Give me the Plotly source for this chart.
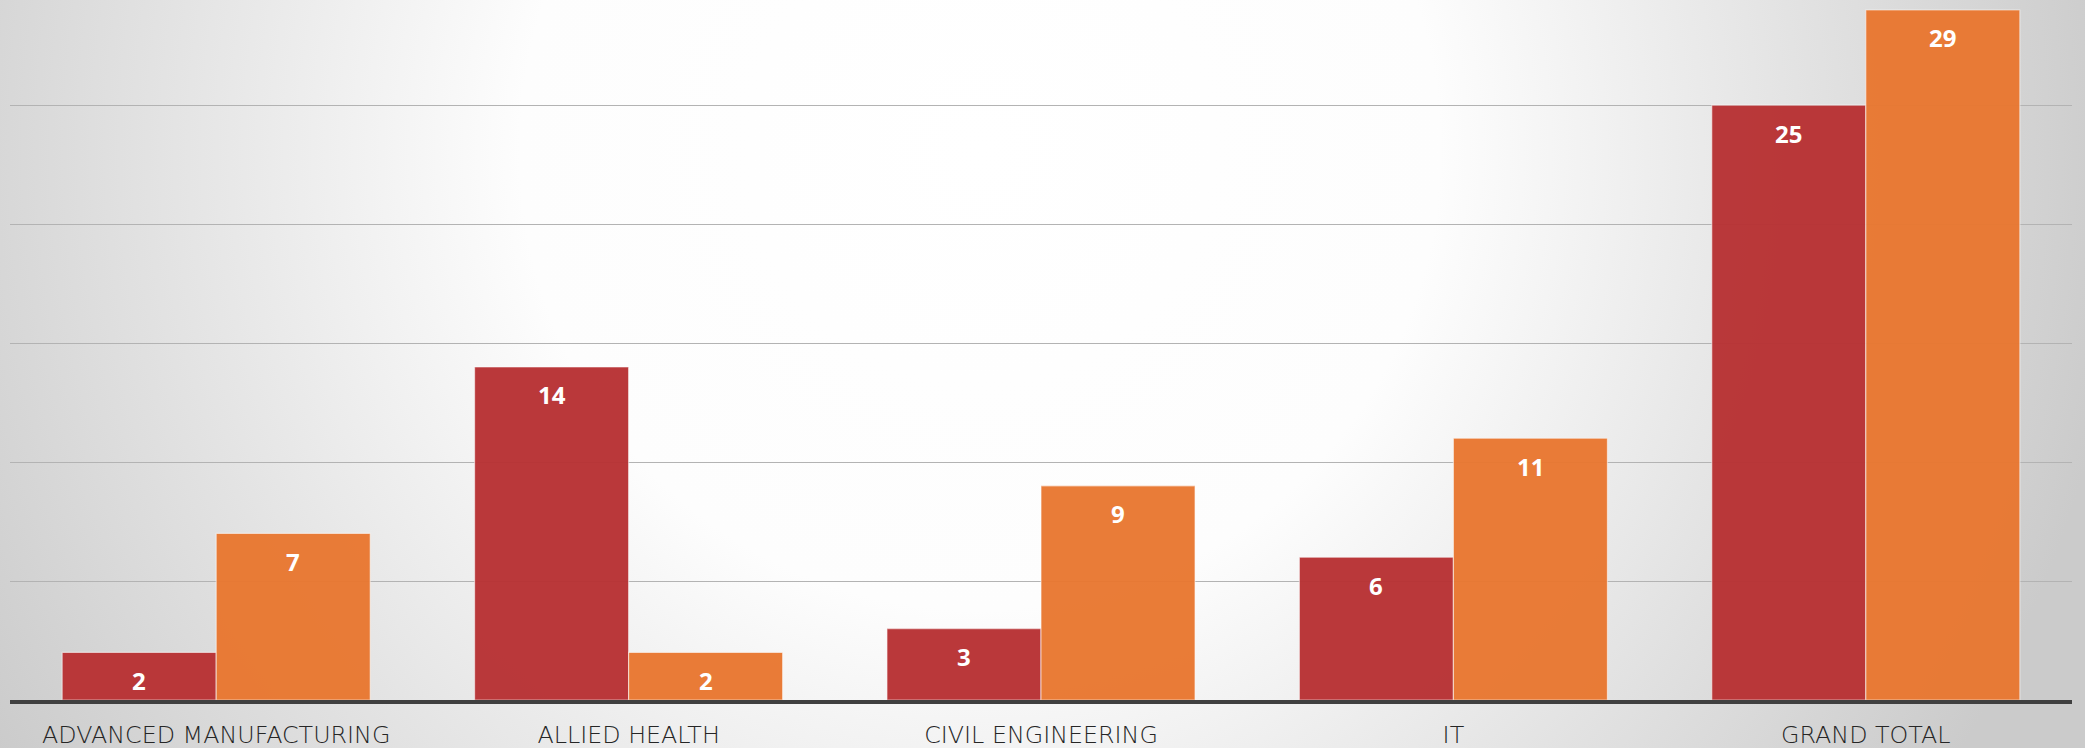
import base64
import plotly.graph_objects as go

# Program enrolment by field, two cohorts
categories = ["ADVANCED MANUFACTURING", "ALLIED HEALTH", "CIVIL ENGINEERING", "IT", "GRAND TOTAL"]
series_a = [2, 14, 3, 6, 25]
series_b = [7, 2, 9, 11, 29]

RED = "#B83133"
ORANGE = "#E97730"

W, H = 2085, 748
ML, MR, MT, MB = 10, 13, 0, 48
BARGAP = 0.253

# soft radial background, white toward the upper middle, grey at the edges
svg = f"""<svg xmlns='http://www.w3.org/2000/svg' width='{W}' height='{H}'>
<defs><radialGradient id='g' gradientUnits='userSpaceOnUse' cx='980' cy='150' r='1150'>
<stop offset='0' stop-color='#ffffff'/>
<stop offset='0.4' stop-color='#fdfdfd'/>
<stop offset='1' stop-color='#cbcbcb'/>
</radialGradient></defs>
<rect x='0' y='0' width='{W}' height='{H}' fill='url(#g)'/></svg>"""
bg_src = "data:image/svg+xml;base64," + base64.b64encode(svg.encode()).decode()

pw, ph = W - ML - MR, H - MT - MB

fig = go.Figure()
for vals, color in ((series_a, RED), (series_b, ORANGE)):
    fig.add_trace(go.Bar(
        x=categories, y=vals,
        marker=dict(color=color, opacity=0.96,
                    line=dict(color="rgba(255,255,255,0.55)", width=1.2)),
        hoverinfo="x+y",
    ))

# value labels just inside the top of each bar
half = (1 - BARGAP) / 4
for i in range(len(categories)):
    for vals, dx in ((series_a, -half), (series_b, half)):
        fig.add_annotation(
            x=i + dx, y=vals[i], yshift=-28, showarrow=False,
            text=str(vals[i]), xanchor="center", yanchor="middle",
            font=dict(family="Open Sans", size=24, color="white", weight="bold"),
        )

fig.add_layout_image(
    source=bg_src, xref="paper", yref="paper",
    x=-ML / pw, y=1 + MT / ph, sizex=W / pw, sizey=H / ph,
    xanchor="left", yanchor="top", sizing="stretch", layer="below",
)

fig.update_layout(
    width=W, height=H,
    margin=dict(l=ML, r=MR, t=MT, b=MB, pad=0),
    barmode="group", bargap=BARGAP, bargroupgap=0,
    showlegend=False,
    paper_bgcolor="#ececec", plot_bgcolor="rgba(0,0,0,0)",
    xaxis=dict(
        type="category", showgrid=False, showline=True,
        linecolor="#404040", linewidth=3.5, ticks="",
        tickfont=dict(family="DejaVu Sans", size=23.8, color="#262626", weight=200),
        ticklabelstandoff=11,
    ),
    yaxis=dict(
        range=[0, 29.42], dtick=5, showticklabels=False,
        showgrid=True, gridcolor="#b3b3b3", gridwidth=1.2,
        zeroline=False, showline=False,
    ),
)

fig.write_html("out.html")
